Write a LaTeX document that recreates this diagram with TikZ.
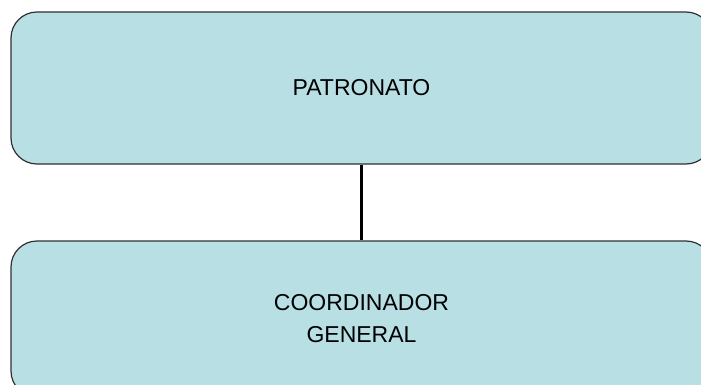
\documentclass[tikz,border=0pt]{standalone}
\usepackage{fontspec}
\setmainfont{Liberation Sans}
\definecolor{boxfill}{HTML}{B8E0E4}
\definecolor{boxline}{HTML}{303030}
\tikzset{
  orgbox/.style={draw=boxline, line width=1.2pt, fill=boxfill, rounded corners=26pt,
    minimum width=701pt, minimum height=152pt, inner sep=0pt, align=center,
    font=\fontsize{23}{32}\selectfont},
  link/.style={draw=black, line width=3pt}
}
\begin{document}
\begin{tikzpicture}[x=1pt,y=-1pt]
\useasboundingbox (0,0) rectangle (701,385);
\clip (0,0) rectangle (701,385);
\node[orgbox] (pat) at (361.5,88) {PATRONATO};
\node[orgbox, minimum height=156pt] (coord) at (361.5,319) {COORDINADOR\\GENERAL};
\draw[link] (pat.south) -- (coord.north);
\end{tikzpicture}
\end{document}
